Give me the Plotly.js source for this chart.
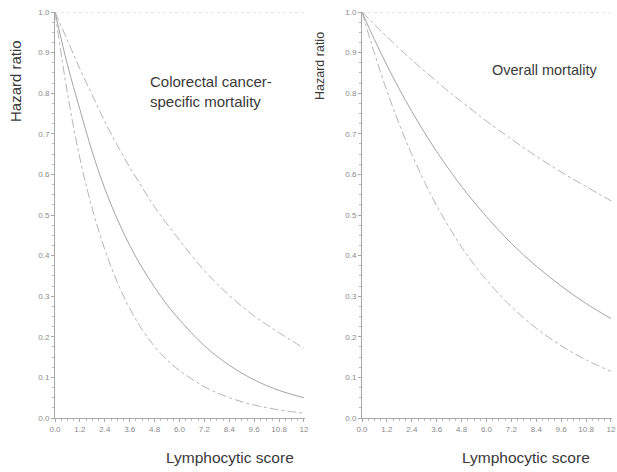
<!DOCTYPE html>
<html>
<head>
<meta charset="utf-8">
<script src="https://cdn.plot.ly/plotly-3.0.1.min.js"></script>
<style>html,body{margin:0;padding:0;background:#fff;}#chart{width:617px;height:472px;}</style>
</head>
<body>
<div id="chart"></div>
<script>
// Lymphocytic score positions where curves were read
const scoreX = [0, 0.6, 1.2, 1.8, 2.4, 3.0, 3.6, 4.2, 4.8, 5.4, 6.0, 7.2, 8.4, 9.6, 10.8, 12.0];

// Colorectal cancer-specific mortality
const crcHR    = [1.00, 0.87, 0.76, 0.655, 0.565, 0.49, 0.425, 0.37, 0.322, 0.279, 0.242, 0.178, 0.13, 0.094, 0.068, 0.05];
const crcUpper = [1.00, 0.93, 0.86, 0.795, 0.73, 0.672, 0.618, 0.568, 0.52, 0.478, 0.438, 0.363, 0.302, 0.251, 0.21, 0.172];
const crcLower = [1.00, 0.80, 0.64, 0.515, 0.415, 0.335, 0.27, 0.218, 0.176, 0.143, 0.117, 0.077, 0.05, 0.032, 0.02, 0.012];

// Overall mortality
const allHR    = [1.00, 0.932, 0.869, 0.81, 0.755, 0.704, 0.656, 0.612, 0.57, 0.532, 0.496, 0.43, 0.374, 0.325, 0.282, 0.245];
const allUpper = [1.00, 0.969, 0.939, 0.91, 0.882, 0.855, 0.829, 0.803, 0.779, 0.755, 0.731, 0.687, 0.645, 0.606, 0.57, 0.535];
const allLower = [1.00, 0.898, 0.806, 0.723, 0.649, 0.583, 0.523, 0.47, 0.421, 0.378, 0.34, 0.274, 0.221, 0.178, 0.143, 0.115];

// Reference line HR = 1
const refX = [0, 12];
const refY = [1, 1];

// Tick labels
const xTickVals = [0, 1.2, 2.4, 3.6, 4.8, 6.0, 7.2, 8.4, 9.6, 10.8, 12];
const xTickText = ['0.0', '1.2', '2.4', '3.6', '4.8', '6.0', '7.2', '8.4', '9.6', '10.8', '12'];
const yTickVals = [0, 0.1, 0.2, 0.3, 0.4, 0.5, 0.6, 0.7, 0.8, 0.9, 1.0];
const yTickText = ['0.0', '0.1', '0.2', '0.3', '0.4', '0.5', '0.6', '0.7', '0.8', '0.9', '1.0'];

const solidStyle = {color: '#a4a4a4', width: 1, shape: 'spline'};
const ciStyle = {color: '#b6b6b6', width: 1, dash: 'dashdot', shape: 'spline'};
const refStyle = {color: '#cfcfcf', width: 1, dash: 'dot'};

function tr(x, y, line, xa, ya) {
  return {x: x, y: y, type: 'scatter', mode: 'lines', line: line, xaxis: xa, yaxis: ya, hoverinfo: 'skip', showlegend: false};
}

const data = [
  tr(refX, refY, refStyle, 'x', 'y'),
  tr(scoreX, crcUpper, ciStyle, 'x', 'y'),
  tr(scoreX, crcHR, solidStyle, 'x', 'y'),
  tr(scoreX, crcLower, ciStyle, 'x', 'y'),
  tr(refX, refY, refStyle, 'x2', 'y2'),
  tr(scoreX, allUpper, ciStyle, 'x2', 'y2'),
  tr(scoreX, allHR, solidStyle, 'x2', 'y2'),
  tr(scoreX, allLower, ciStyle, 'x2', 'y2')
];

const font = 'Liberation Sans, Arial, sans-serif';
const tickFont = {family: font, size: 8, color: '#8a8a8a'};
const txtColor = '#3a3a3a';

function xax(domain, anchor) {
  return {
    domain: domain, anchor: anchor, range: [0, 12.05], showgrid: false, zeroline: false,
    showline: true, linecolor: '#a8a8a8', linewidth: 1,
    ticks: 'outside', ticklen: 3, tickcolor: '#a8a8a8',
    tickvals: xTickVals, ticktext: xTickText, tickfont: tickFont,
    ticklabeloverflow: 'allow',
    minor: {dtick: 0.3, ticks: 'outside', ticklen: 2, tickcolor: '#bbbbbb', showgrid: false}
  };
}
function yax(domain, anchor) {
  return {
    domain: domain, anchor: anchor, range: [0, 1.0], showgrid: false, zeroline: false,
    showline: true, linecolor: '#a8a8a8', linewidth: 1,
    ticks: 'outside', ticklen: 3, tickcolor: '#a8a8a8',
    tickvals: yTickVals, ticktext: yTickText, tickfont: tickFont,
    minor: {dtick: 0.025, ticks: 'outside', ticklen: 2, tickcolor: '#bbbbbb', showgrid: false}
  };
}

const yDom = [1 - 418 / 472, 1 - 12 / 472];

const layout = {
  width: 617, height: 472,
  margin: {l: 0, r: 0, t: 0, b: 0},
  paper_bgcolor: '#ffffff', plot_bgcolor: '#ffffff',
  showlegend: false,
  xaxis: xax([55 / 617, 305 / 617], 'y'),
  yaxis: yax(yDom, 'x'),
  xaxis2: xax([362 / 617, 612 / 617], 'y2'),
  yaxis2: yax(yDom, 'x2'),
  annotations: [
    {text: 'Hazard ratio', xref: 'paper', yref: 'paper', x: 15 / 617, y: 1 - 81 / 472, textangle: -90,
     showarrow: false, font: {family: font, size: 15, color: txtColor}, xanchor: 'center', yanchor: 'middle'},
    {text: 'Hazard ratio', xref: 'paper', yref: 'paper', x: 320 / 617, y: 1 - 66 / 472, textangle: -90,
     showarrow: false, font: {family: font, size: 12.5, color: txtColor}, xanchor: 'center', yanchor: 'middle'},
    {text: 'Lymphocytic score', xref: 'paper', yref: 'paper', x: 230 / 617, y: 1 - 457 / 472,
     showarrow: false, font: {family: font, size: 15.5, color: txtColor}, xanchor: 'center', yanchor: 'middle'},
    {text: 'Lymphocytic score', xref: 'paper', yref: 'paper', x: 526 / 617, y: 1 - 457 / 472,
     showarrow: false, font: {family: font, size: 15.5, color: txtColor}, xanchor: 'center', yanchor: 'middle'},
    {text: 'Colorectal cancer-<br>specific mortality', xref: 'paper', yref: 'paper', x: 148 / 617, y: 1 - 91 / 472,
     showarrow: false, align: 'left', font: {family: font, size: 15, color: txtColor}, xanchor: 'left', yanchor: 'middle'},
    {text: 'Overall mortality', xref: 'paper', yref: 'paper', x: 490 / 617, y: 1 - 70 / 472,
     showarrow: false, align: 'left', font: {family: font, size: 14.5, color: txtColor}, xanchor: 'left', yanchor: 'middle'}
  ]
};

Plotly.newPlot('chart', data, layout, {staticPlot: true, displayModeBar: false});
</script>
</body>
</html>
